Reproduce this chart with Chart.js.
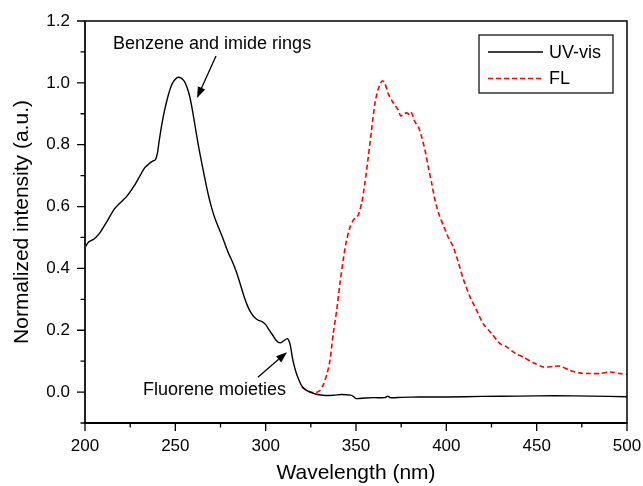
<!DOCTYPE html>
<html>
<head>
<meta charset="utf-8">
<script src="https://cdn.jsdelivr.net/npm/chart.js@4.4.1/dist/chart.umd.min.js"></script>
<style>
html,body{margin:0;padding:0;background:#fff;}
#wrap{width:643px;height:486px;position:relative;}
</style>
</head>
<body>
<div id="wrap"><canvas id="c" width="643" height="486"></canvas></div>
<script>
// ---- Data ----
const uvWavelength = [200,202,205,208,212,216,220,223,227,230,233,235,237,239,240,241,242.5,244,245.5,247,248.5,250,251.6,253,255,256.5,258,259.5,261,263,265,267,269,271,273,276,279,282,284,286,288,290,292,294,296,298,300,302,304,306,308,310,312,313.5,315,316.5,318,320,322,324.5,328,333,338,342,347,348.5,350,355,360,366,367.5,369,375,385,400,420,440,460,480,500];
const uvIntensity = [0.468,0.485,0.495,0.513,0.55,0.59,0.615,0.632,0.665,0.695,0.725,0.736,0.745,0.752,0.77,0.81,0.865,0.91,0.947,0.978,1.0,1.012,1.018,1.016,1.005,0.985,0.955,0.91,0.858,0.79,0.73,0.672,0.62,0.578,0.545,0.502,0.455,0.416,0.385,0.348,0.31,0.278,0.255,0.24,0.232,0.228,0.218,0.2,0.183,0.166,0.159,0.166,0.173,0.155,0.105,0.07,0.045,0.02,0.008,0.0,-0.007,-0.011,-0.01,-0.008,-0.01,-0.014,-0.021,-0.019,-0.018,-0.018,-0.013,-0.018,-0.017,-0.016,-0.016,-0.014,-0.013,-0.012,-0.013,-0.015];

const flWavelength = [320,322,324,327,330,332,334,335.6,337.4,339.3,341.1,342.9,344.4,346.7,348.5,350,351.2,353.1,354.9,356.8,358.6,360.5,362,363.5,364.7,366,367.8,369.7,371.5,373.4,374.7,376.5,378,379.9,380.8,382.6,384.5,386.3,388.2,390,391.9,393.7,396.1,398.3,401.1,403.8,406.6,409.4,413.1,416.8,420.4,425.1,429.7,433.4,438,442.6,448.1,453.6,459.2,462.9,468.4,473.9,479.5,485,490.6,496.1,500];
const flIntensity = [0.016,0.008,0.003,-0.003,0.005,0.025,0.06,0.103,0.189,0.264,0.351,0.426,0.48,0.534,0.556,0.565,0.572,0.61,0.675,0.761,0.847,0.934,0.975,0.998,1.007,0.998,0.966,0.944,0.928,0.912,0.893,0.899,0.903,0.896,0.903,0.874,0.858,0.826,0.782,0.728,0.675,0.621,0.572,0.54,0.5,0.47,0.42,0.365,0.308,0.264,0.221,0.189,0.157,0.146,0.126,0.113,0.095,0.081,0.083,0.084,0.07,0.062,0.06,0.06,0.065,0.06,0.057];

const xTickLabels = [200,250,300,350,400,450,500];
const yTickLabels = [0.0,0.2,0.4,0.6,0.8,1.0,1.2];
const xMinorTicks = [225,275,325,375,425,475];
const yMinorTicks = [-0.1,0.1,0.3,0.5,0.7,0.9,1.1];
const seriesNames = ['UV-vis','FL'];
const annotations = [
  {text:'Benzene and imide rings', x:215.5, y:1.126, tail:[272.5,1.087], head:[262,0.951]},
  {text:'Fluorene moieties', x:232.1, y:0.006, tail:[295.7,0.048], head:[311.8,0.129]}
];

const FONT = "'Liberation Sans', Arial, sans-serif";

const toPts = (xs, ys) => xs.map((x,i)=>({x:x, y:ys[i]}));

const decorPlugin = {
  id:'decor',
  afterDraw(chart){
    const ctx = chart.ctx;
    const a = chart.chartArea;
    const xs = chart.scales.x, ys = chart.scales.y;
    ctx.save();
    // frame
    ctx.strokeStyle = '#000';
    ctx.lineWidth = 1.5;
    ctx.beginPath();
    ctx.moveTo(a.left, a.top); ctx.lineTo(a.right, a.top); ctx.lineTo(a.right, a.bottom);
    ctx.stroke();
    ctx.lineWidth = 2;
    ctx.strokeStyle = '#222';
    ctx.beginPath();
    ctx.moveTo(a.left, a.top-0.5); ctx.lineTo(a.left, a.bottom);
    ctx.stroke();
    ctx.strokeStyle = '#000';
    ctx.beginPath();
    ctx.moveTo(a.left-1, a.bottom); ctx.lineTo(a.right+0.75, a.bottom);
    ctx.stroke();
    // ticks
    ctx.lineWidth = 1.3;
    ctx.beginPath();
    xTickLabels.forEach(v=>{const p=xs.getPixelForValue(v); ctx.moveTo(p,a.bottom); ctx.lineTo(p,a.bottom+8);});
    xMinorTicks.forEach(v=>{const p=xs.getPixelForValue(v); ctx.moveTo(p,a.bottom); ctx.lineTo(p,a.bottom+4.5);});
    yTickLabels.forEach(v=>{const p=ys.getPixelForValue(v); ctx.moveTo(a.left,p); ctx.lineTo(a.left-8,p);});
    yMinorTicks.forEach(v=>{const p=ys.getPixelForValue(v); ctx.moveTo(a.left,p); ctx.lineTo(a.left-4.5,p);});
    ctx.stroke();

    // legend
    const lx = a.right - 148, ly = a.top + 14, lw = 134, lh = 58;
    ctx.lineWidth = 1.2;
    ctx.strokeStyle = '#000';
    ctx.strokeRect(lx, ly, lw, lh);
    ctx.font = '18px ' + FONT;
    ctx.fillStyle = '#000';
    ctx.textBaseline = 'middle';
    ctx.textAlign = 'left';
    const ds = chart.data.datasets;
    [0,1].forEach(i=>{
      const yy = ly + 17 + i*26.5;
      ctx.save();
      ctx.strokeStyle = ds[i].borderColor;
      ctx.lineWidth = ds[i].borderWidth;
      ctx.setLineDash(ds[i].borderDash || []);
      ctx.beginPath(); ctx.moveTo(lx+9, yy); ctx.lineTo(lx+64, yy); ctx.stroke();
      ctx.restore();
      ctx.fillText(seriesNames[i], lx+70, yy+1);
    });

    // annotations
    annotations.forEach(an=>{
      ctx.fillStyle = '#000';
      ctx.font = '18px ' + FONT;
      ctx.textBaseline = 'middle';
      ctx.fillText(an.text, xs.getPixelForValue(an.x), ys.getPixelForValue(an.y));
      const tx = xs.getPixelForValue(an.tail[0]), ty = ys.getPixelForValue(an.tail[1]);
      const hx = xs.getPixelForValue(an.head[0]), hy = ys.getPixelForValue(an.head[1]);
      const ang = Math.atan2(hy-ty, hx-tx);
      const L = 11, W = 4;
      const bx = hx - L*Math.cos(ang), by = hy - L*Math.sin(ang);
      ctx.strokeStyle = '#000'; ctx.lineWidth = 1.3;
      ctx.beginPath(); ctx.moveTo(tx,ty); ctx.lineTo(bx,by); ctx.stroke();
      ctx.beginPath();
      ctx.moveTo(hx,hy);
      ctx.lineTo(bx + W*Math.sin(ang), by - W*Math.cos(ang));
      ctx.lineTo(bx - W*Math.sin(ang), by + W*Math.cos(ang));
      ctx.closePath(); ctx.fill();
    });
    ctx.restore();
  }
};

new Chart(document.getElementById('c'), {
  type:'line',
  data:{
    datasets:[
      {label:seriesNames[0], data:toPts(uvWavelength, uvIntensity), borderColor:'#000000', borderWidth:1.4, pointRadius:0, tension:0.25, fill:false},
      {label:seriesNames[1], data:toPts(flWavelength, flIntensity), borderColor:'#ff0000', borderWidth:1.6, borderDash:[5,3], pointRadius:0, tension:0.25, fill:false}
    ]
  },
  options:{
    responsive:false,
    animation:false,
    layout:{padding:{left:0, top:21, right:16, bottom:0}},
    plugins:{legend:{display:false}, tooltip:{enabled:false}},
    scales:{
      x:{
        type:'linear', min:200, max:500,
        grid:{display:false, drawTicks:true, tickLength:8},
        border:{display:false},
        afterBuildTicks(s){ s.ticks = xTickLabels.map(v=>({value:v})); },
        afterFit(s){ s.height = 63; s.paddingRight = 0; s.paddingLeft = 0; },
        ticks:{color:'#000', font:{family:FONT, size:17}, padding:5, maxRotation:0, callback:(v)=>String(v)},
        title:{display:true, text:'Wavelength (nm)', color:'#000', font:{family:FONT, size:21}, padding:{top:0,bottom:0}}
      },
      y:{
        type:'linear', min:-0.1, max:1.2,
        grid:{display:false, drawTicks:true, tickLength:8},
        border:{display:false},
        afterBuildTicks(s){ s.ticks = yTickLabels.map(v=>({value:v})); },
        afterFit(s){ s.width = 85; s.paddingTop = 0; s.paddingBottom = 0; },
        ticks:{color:'#000', font:{family:FONT, size:17}, padding:7, callback:(v)=>Number(v).toFixed(1)},
        title:{display:true, text:'Normalized intensity (a.u.)', color:'#000', font:{family:FONT, size:21}, padding:{top:10,bottom:0}}
      }
    }
  },
  plugins:[decorPlugin]
});
</script>
</body>
</html>
